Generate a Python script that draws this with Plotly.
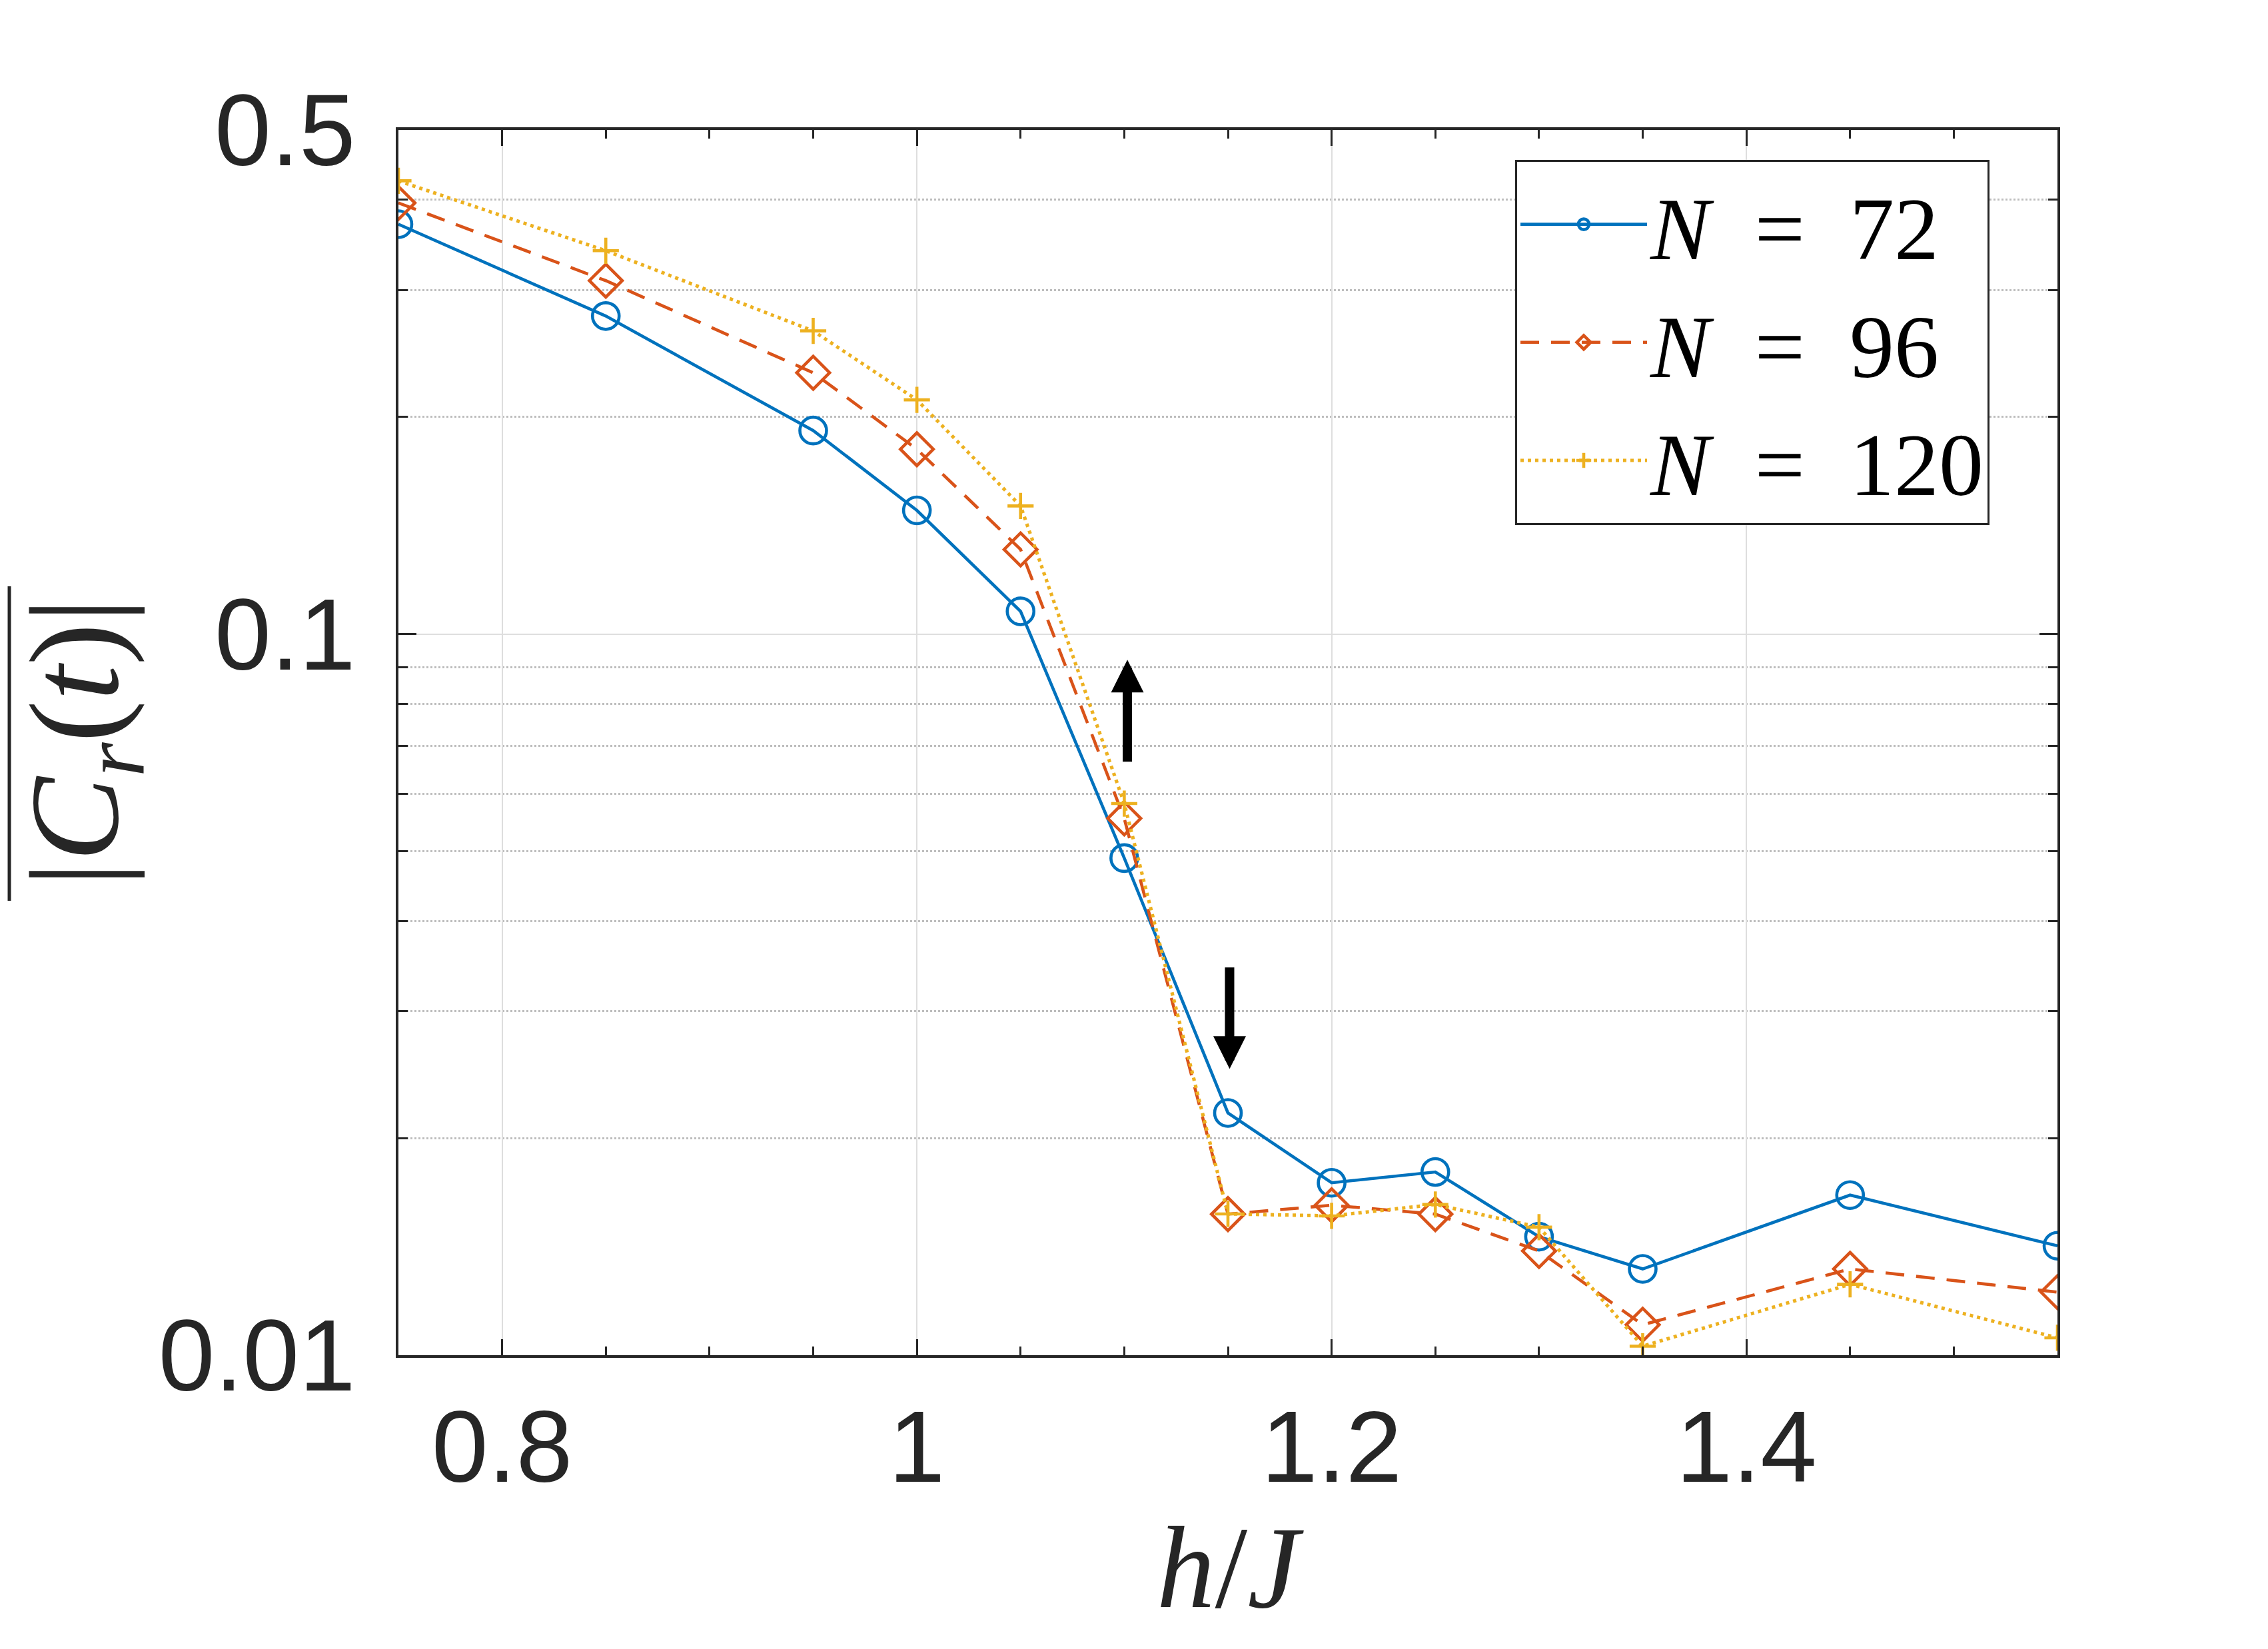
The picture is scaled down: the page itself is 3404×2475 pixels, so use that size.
import numpy as np
import plotly.graph_objects as go

# ---- data ----
h = [0.75, 0.85, 0.95, 1.0, 1.05, 1.1, 1.15, 1.2, 1.25, 1.3, 1.35, 1.45, 1.55]
c_n72 = [0.370, 0.276, 0.1915, 0.1484, 0.1075, 0.0489, 0.02167, 0.01734, 0.01795, 0.0146, 0.01317, 0.01667, 0.01418]
c_n96 = [0.396, 0.309, 0.2303, 0.1804, 0.131, 0.0555, 0.01569, 0.01614, 0.01569, 0.01395, 0.01102, 0.01317, 0.01223]
c_n120 = [0.425, 0.340, 0.2632, 0.2112, 0.1505, 0.0582, 0.0157, 0.0156, 0.01618, 0.01505, 0.01029, 0.01254, 0.01057]
series_names = ["<i>N</i>\u2002=\u200272", "<i>N</i>\u2002=\u200296", "<i>N</i>\u2002=\u2002120"]

x_ticks = [0.8, 1.0, 1.2, 1.4]
x_ticktext = ["0.8", "1", "1.2", "1.4"]
y_ticks = [0.01, 0.1, 0.5]
y_ticktext = ["0.01", "0.1", "0.5"]
y_minor = [0.02, 0.03, 0.04, 0.05, 0.06, 0.07, 0.08, 0.09, 0.2, 0.3, 0.4]

# arrows (x, tail value, head value)
arrow_x = [1.1015, 1.1508]
arrow_tail = [0.0663, 0.0346]
arrow_head = [0.0921, 0.02495]

# ---- styling ----
colors = ["#0072BD", "#D95319", "#EDB120"]
AX = "#262626"
LW = 4.6
W, H = 3404, 2475
ML, MR, MT, MB = 590, 324, 187, 449
PW, PH = W - ML - MR, H - MT - MB

fig = go.Figure()
fig.add_trace(go.Scatter(x=h, y=c_n72, name=series_names[0], mode="lines+markers",
                         line=dict(color=colors[0], width=LW),
                         marker=dict(symbol="circle-open", size=40, color=colors[0],
                                     line=dict(width=LW, color=colors[0]))))
fig.add_trace(go.Scatter(x=h, y=c_n96, name=series_names[1], mode="lines+markers",
                         line=dict(color=colors[1], width=LW, dash="28px,18px"),
                         marker=dict(symbol="diamond-open", size=38, color=colors[1],
                                     line=dict(width=LW, color=colors[1]))))
fig.add_trace(go.Scatter(x=h, y=c_n120, name=series_names[2], mode="lines+markers",
                         line=dict(color=colors[2], width=LW + 0.6, dash="5px,6px"),
                         marker=dict(symbol="cross-thin-open", size=28, color=colors[2],
                                     line=dict(width=LW, color=colors[2]))))

for xa, yt, yh in zip(arrow_x, arrow_tail, arrow_head):
    fig.add_annotation(x=xa, y=np.log10(yh), ax=xa, ay=np.log10(yt),
                       xref="x", yref="y", axref="x", ayref="y",
                       text="", showarrow=True, arrowhead=2, arrowsize=0.7,
                       arrowwidth=14, arrowcolor="black", standoff=0, startstandoff=0)

serif = "Liberation Serif, Times New Roman, serif"
tickfont = dict(family="Liberation Sans, Arial, sans-serif", size=152, color=AX)

# y-axis label (rotated) with overline
fig.add_annotation(xref="paper", yref="paper", x=(118 - ML) / PW, y=(H - MB - 1106) / PH,
                   xanchor="center", yanchor="middle", textangle=-90, showarrow=False,
                   text="|<i>C</i><sub><i>r</i></sub>(<i>t</i>)|",
                   font=dict(family=serif, size=190, color=AX))
fig.add_shape(type="line", xref="paper", yref="paper",
              x0=(6 - ML) / PW, x1=(6 - ML) / PW,
              y0=(H - MB - 872) / PH, y1=(H - MB - 1344) / PH,
              line=dict(color=AX, width=5))

fig.update_layout(
    width=W, height=H, autosize=False,
    margin=dict(l=ML, r=MR, t=MT, b=MB, pad=0),
    paper_bgcolor="white", plot_bgcolor="white",
    showlegend=True,
    legend=dict(x=(2266 - ML) / PW, y=(H - MB - 232) / PH, xanchor="left", yanchor="top",
                bordercolor=AX, borderwidth=3, bgcolor="white",
                font=dict(family=serif, size=134, color="black"),
                itemwidth=190, tracegroupgap=0),
    xaxis=dict(range=[0.75, 1.55], tickmode="array", tickvals=x_ticks, ticktext=x_ticktext,
               ticks="inside", ticklen=24, tickwidth=3, tickcolor=AX,
               showline=True, linewidth=4, linecolor=AX, mirror="allticks",
               showgrid=True, gridcolor="#dedede", gridwidth=2, zeroline=False,
               tickfont=tickfont, ticklabelstandoff=4,
               minor=dict(tickmode="linear", tick0=0.75, dtick=0.05, ticks="inside",
                          ticklen=13, tickwidth=3, tickcolor=AX, showgrid=False),
               title=dict(text="<i>h</i>/<i>J</i>", font=dict(family=serif, size=175, color=AX),
                          standoff=14)),
    yaxis=dict(type="log", range=[-2, np.log10(0.5)], tickmode="array",
               tickvals=y_ticks, ticktext=y_ticktext,
               ticks="inside", ticklen=27, tickwidth=3, tickcolor=AX,
               showline=True, linewidth=4, linecolor=AX, mirror="allticks",
               showgrid=True, gridcolor="#dedede", gridwidth=2, zeroline=False,
               tickfont=tickfont, ticklabelstandoff=30,
               minor=dict(tickmode="array", tickvals=y_minor, ticks="inside",
                          ticklen=14, tickwidth=3, tickcolor=AX, showgrid=True,
                          griddash="dot", gridcolor="#bdbdbd", gridwidth=2.5)),
)

fig.write_html("out.html")
